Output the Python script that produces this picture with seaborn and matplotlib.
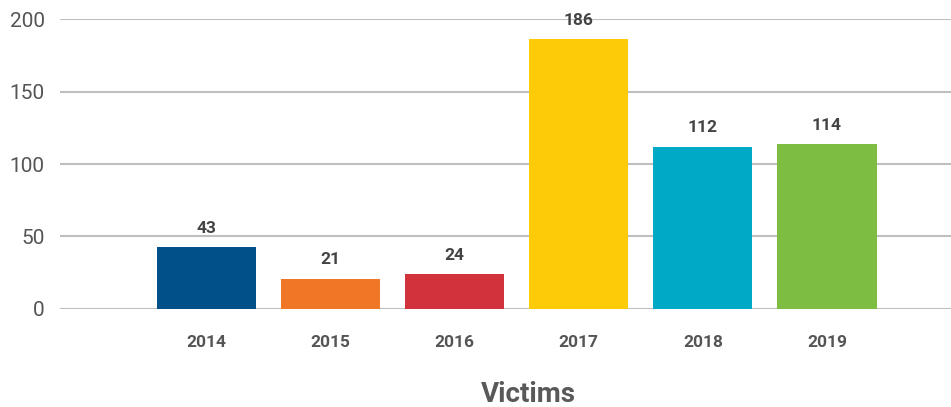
import pandas as pd
import matplotlib.pyplot as plt
import seaborn as sns

# chart data
years = ['2014', '2015', '2016', '2017', '2018', '2019']
victims = [43, 21, 24, 186, 112, 114]
bar_colors = ['#02508A', '#EF7726', '#D2323C', '#FDCB08', '#00AAC6', '#7DBE42']

df = pd.DataFrame({'Year': years, 'Victims': victims})

sns.set_style('white')
plt.rcParams['font.family'] = ['Roboto', 'DejaVu Sans']

fig = plt.figure(figsize=(9.51, 4.07), dpi=100)
ax = fig.add_axes([0.0631, 0.2408, 0.9369, 0.7125])

sns.barplot(data=df, x='Year', y='Victims', hue='Year', palette=bar_colors,
            legend=False, width=0.8, saturation=1, linewidth=0, ax=ax)

# value labels above the bars
for i, v in enumerate(victims):
    ax.annotate(str(v), (i, v), xytext=(0, 8), textcoords='offset points',
                ha='center', va='bottom', fontsize=12.5, fontweight='bold', color='#444444')

ax.set_ylim(0, 200)
ax.set_xlim(-1.18, 6.0)
ax.set_yticks([0, 50, 100, 150, 200])
ax.yaxis.grid(True, color='#BFBFBF', linewidth=1.5)
ax.set_axisbelow(True)
for s in ax.spines.values():
    s.set_visible(False)
ax.axhline(0, color='#BFBFBF', linewidth=1.5, zorder=0)

ax.tick_params(axis='y', length=0, pad=11, labelsize=15, labelcolor='#555555')
ax.tick_params(axis='x', length=0, pad=19, labelsize=12.5, labelcolor='#555555')
for lbl in ax.get_xticklabels():
    lbl.set_fontweight('bold')
ax.set_xlabel('')
ax.set_ylabel('')

fig.text(528 / 951, 12 / 407, 'Victims', ha='center', va='center',
         fontsize=20, fontweight='bold', color='#595959')

fig.savefig('out.png', dpi=100)
